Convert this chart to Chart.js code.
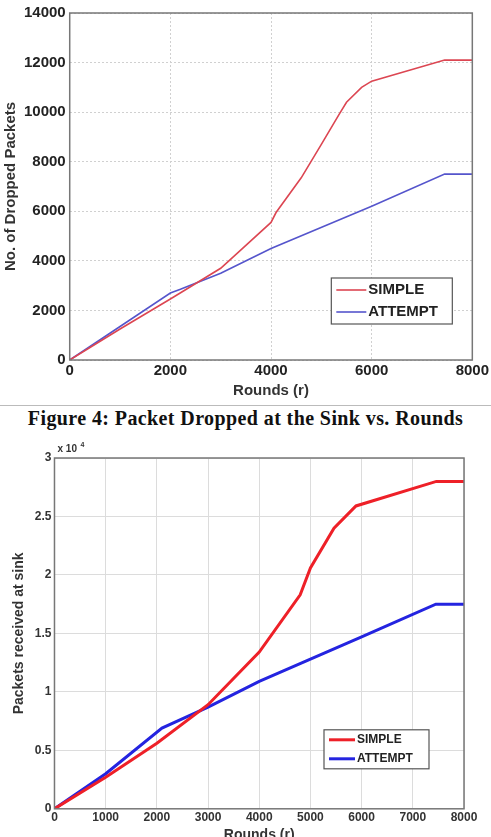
<!DOCTYPE html>
<html>
<head>
<meta charset="utf-8">
<script src="https://cdn.jsdelivr.net/npm/chart.js@4.4.0/dist/chart.umd.min.js"></script>
<style>
  body { margin: 0; background: #fff; width: 491px; height: 837px; overflow: hidden; }
  #c1wrap { position: absolute; left: 0; top: 0; width: 491px; height: 400px; }
  #c2wrap { position: absolute; left: 0; top: 428px; width: 491px; height: 416px; }
  #rule { position: absolute; left: 0; top: 405px; width: 491px; height: 1px; background: #bbb; }
  #caption { position: absolute; left: 0; top: 407px; width: 491px; text-align: center;
    font: bold 20px "Liberation Serif", serif; letter-spacing: 0.4px; color: #111; }
</style>
</head>
<body>
<div id="c1wrap"><canvas id="dropped"></canvas></div>
<div id="rule"></div>
<div id="caption">Figure 4: Packet Dropped at the Sink vs. Rounds</div>
<div id="c2wrap"><canvas id="received"></canvas></div>
<script>
// Figure 4: dropped packets
const droppedSimpleX = [0, 1000, 2000, 3000, 4000, 4100, 4600, 5000, 5350, 5500, 5800, 6000, 7450, 8000];
const droppedSimpleY = [0, 1250, 2460, 3700, 5550, 5950, 7350, 8700, 9900, 10400, 11000, 11250, 12100, 12100];
const droppedAttemptX = [0, 1000, 2000, 2200, 3000, 4000, 6000, 7450, 8000];
const droppedAttemptY = [0, 1350, 2700, 2850, 3500, 4500, 6200, 7500, 7500];

// packets received at sink
const recvSimpleX = [0, 1000, 2000, 3000, 4000, 4800, 5000, 5460, 5890, 7460, 8000];
const recvSimpleY = [0, 2700, 5600, 8900, 13400, 18300, 20600, 24000, 25900, 28000, 28000];
const recvAttemptX = [0, 1000, 2100, 3000, 4000, 6000, 7450, 8000];
const recvAttemptY = [0, 3000, 6900, 8700, 10900, 14700, 17500, 17500];

const seriesNames = ['SIMPLE', 'ATTEMPT'];

function pts(xs, ys) { return xs.map((x, i) => ({ x: x, y: ys[i] })); }

const boxLegend = {
  id: 'boxLegend',
  afterDraw(chart, args, o) {
    const ctx = chart.ctx, a = chart.chartArea;
    ctx.save();
    // frame round the plot
    ctx.strokeStyle = '#777';
    ctx.lineWidth = 1.5;
    ctx.strokeRect(a.left, a.top, a.right - a.left, a.bottom - a.top);
    // legend box
    const x = a.right - o.right - o.width, y = a.bottom - o.bottom - o.height;
    ctx.fillStyle = '#fff';
    ctx.fillRect(x, y, o.width, o.height);
    ctx.strokeStyle = '#555';
    ctx.lineWidth = 1.2;
    ctx.strokeRect(x, y, o.width, o.height);
    ctx.font = o.font;
    ctx.textBaseline = 'middle';
    chart.data.datasets.forEach((ds, i) => {
      const ly = y + o.rowTop + i * o.rowGap;
      ctx.strokeStyle = ds.borderColor;
      ctx.lineWidth = ds.borderWidth;
      ctx.beginPath();
      ctx.moveTo(x + 5, ly);
      ctx.lineTo(x + 5 + o.sample, ly);
      ctx.stroke();
      ctx.fillStyle = '#222';
      ctx.fillText(ds.label, x + 7 + o.sample, ly);
    });
    if (o.exponent) {
      ctx.font = 'bold 10px "Liberation Sans", Arial, sans-serif';
      ctx.fillStyle = '#333';
      ctx.textBaseline = 'alphabetic';
      ctx.fillText('x 10', a.left + 3, a.top - 6);
      ctx.font = 'bold 7px "Liberation Sans", Arial, sans-serif';
      ctx.fillText('4', a.left + 26, a.top - 11);
    }
    ctx.restore();
  }
};

const sans = '"Liberation Sans", Arial, sans-serif';

new Chart(document.getElementById('dropped'), {
  type: 'line',
  data: {
    datasets: [
      { label: seriesNames[0], data: pts(droppedSimpleX, droppedSimpleY), borderColor: '#dc4652', borderWidth: 1.6 },
      { label: seriesNames[1], data: pts(droppedAttemptX, droppedAttemptY), borderColor: '#5555cc', borderWidth: 1.6 }
    ]
  },
  options: {
    responsive: true,
    maintainAspectRatio: false,
    animation: false,
    elements: { point: { radius: 0 }, line: { tension: 0 } },
    layout: { padding: { top: 5, right: 0, left: 2, bottom: 0 } },
    plugins: {
      legend: { display: false },
      tooltip: { enabled: false },
      boxLegend: { right: 20, bottom: 36, width: 121, height: 46, rowTop: 12, rowGap: 22, sample: 30,
        font: 'bold 15px ' + sans }
    },
    scales: {
      x: {
        type: 'linear', min: 0, max: 8000,
        ticks: { stepSize: 2000, color: '#222', font: { family: sans, size: 15, weight: 'bold' }, padding: 2,
          callback: v => String(v) },
        grid: { color: '#d0d0d0', drawTicks: false },
        border: { display: false, dash: [2, 2] },
        title: { display: true, text: 'Rounds (r)', color: '#333', font: { family: sans, size: 15, weight: 'bold' }, padding: 0 }
      },
      y: {
        min: 0, max: 14000,
        ticks: { stepSize: 2000, color: '#222', font: { family: sans, size: 15, weight: 'bold' }, padding: 4,
          callback: v => String(v) },
        grid: { color: '#d0d0d0', drawTicks: false },
        border: { display: false, dash: [2, 2] },
        title: { display: true, text: 'No. of Dropped Packets', color: '#333', font: { family: sans, size: 15, weight: 'bold' }, padding: 0 }
      }
    }
  },
  plugins: [boxLegend]
});

new Chart(document.getElementById('received'), {
  type: 'line',
  data: {
    datasets: [
      { label: seriesNames[0], data: pts(recvSimpleX, recvSimpleY), borderColor: '#ee2028', borderWidth: 3 },
      { label: seriesNames[1], data: pts(recvAttemptX, recvAttemptY), borderColor: '#2424e0', borderWidth: 3 }
    ]
  },
  options: {
    responsive: true,
    maintainAspectRatio: false,
    animation: false,
    elements: { point: { radius: 0 }, line: { tension: 0 } },
    layout: { padding: { top: 30, right: 27, left: 7, bottom: 0 } },
    plugins: {
      legend: { display: false },
      tooltip: { enabled: false },
      boxLegend: { right: 35, bottom: 40, width: 105, height: 39, rowTop: 10, rowGap: 19, sample: 26,
        font: 'bold 12px ' + sans, exponent: true }
    },
    scales: {
      x: {
        type: 'linear', min: 0, max: 8000,
        ticks: { stepSize: 1000, color: '#333', font: { family: sans, size: 12, weight: 'bold' }, padding: 2,
          callback: v => String(v) },
        grid: { color: '#dcdcdc', drawTicks: false },
        border: { display: false },
        title: { display: true, text: 'Rounds (r)', color: '#333', font: { family: sans, size: 14, weight: 'bold' }, padding: 0 }
      },
      y: {
        min: 0, max: 30000,
        ticks: { stepSize: 5000, color: '#333', font: { family: sans, size: 12, weight: 'bold' }, padding: 3,
          callback: v => String(v / 10000) },
        grid: { color: '#dcdcdc', drawTicks: false },
        border: { display: false },
        title: { display: true, text: 'Packets received at sink', color: '#333', font: { family: sans, size: 14, weight: 'bold' }, padding: 4 }
      }
    }
  },
  plugins: [boxLegend]
});
</script>
</body>
</html>
